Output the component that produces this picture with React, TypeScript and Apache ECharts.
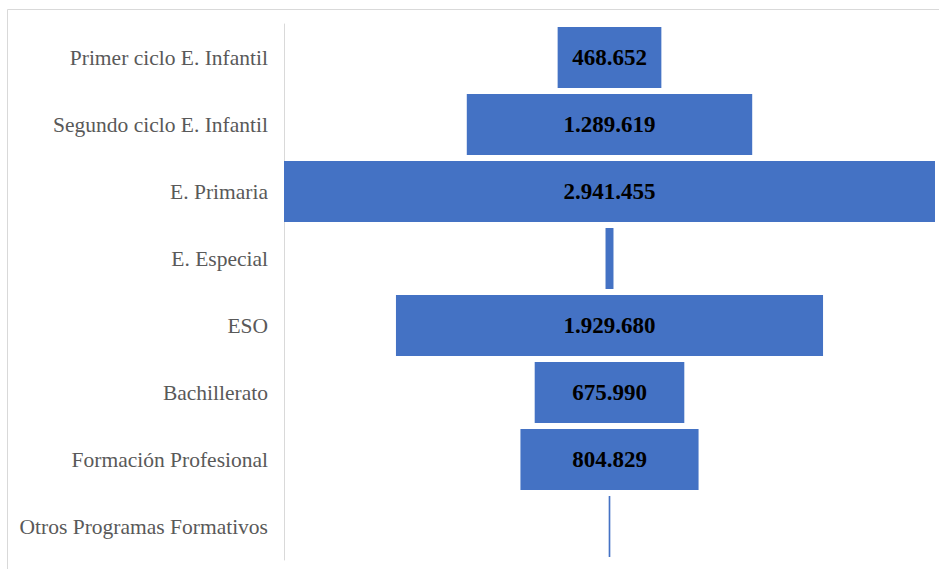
import React, { useEffect, useRef } from "react";
import * as echarts from "echarts";

const categories = [
  "Primer ciclo E. Infantil",
  "Segundo ciclo E. Infantil",
  "E. Primaria",
  "E. Especial",
  "ESO",
  "Bachillerato",
  "Formación Profesional",
  "Otros Programas Formativos",
];
const values = [468652, 1289619, 2941455, 36000, 1929680, 675990, 804829, 7500];
const showLabel = [true, true, true, false, true, true, true, false];

const fmt = (v: number) => String(Math.round(v)).replace(/\B(?=(\d{3})+(?!\d))/g, ".");

export default function App() {
  const ref = useRef<HTMLDivElement>(null);
  useEffect(() => {
    if (!ref.current) return;
    const chart = echarts.init(ref.current, undefined, { renderer: "svg" });
    const maxV = Math.max(...values);
    chart.setOption({
      animation: false,
      backgroundColor: "#ffffff",
      graphic: [
        {
          type: "rect",
          shape: { x: 7.5, y: 9.5, width: 1200, height: 1200 },
          style: { fill: "none", stroke: "#d9d9d9", lineWidth: 1 },
          silent: true,
        },
      ],
      grid: { left: 284, right: 4, top: 24, bottom: 9, containLabel: false },
      xAxis: {
        type: "value",
        min: 0,
        max: maxV,
        show: false,
      },
      yAxis: {
        type: "category",
        inverse: true,
        data: categories,
        axisLine: { show: true, lineStyle: { color: "#d9d9d9", width: 1 } },
        axisTick: { show: false },
        axisLabel: {
          color: "#595959",
          fontFamily: "'Liberation Serif', 'Times New Roman', serif",
          fontSize: 21.5,
          margin: 16,
        },
      },
      series: [
        {
          type: "bar",
          stack: "f",
          silent: true,
          itemStyle: { color: "transparent" },
          data: values.map((v) => (maxV - v) / 2),
          barCategoryGap: "9%",
        },
        {
          type: "bar",
          stack: "f",
          barCategoryGap: "9%",
          itemStyle: { color: "#4472c4" },
          data: values.map((v, i) => ({
            value: v,
            label: {
              show: showLabel[i],
              position: "inside",
              formatter: () => fmt(v),
              color: "#000000",
              fontWeight: "bold",
              fontSize: 23,
              fontFamily: "'Liberation Serif', 'Times New Roman', serif",
            },
          })),
        },
      ],
    });
    return () => chart.dispose();
  }, []);
  return (
    <div
      ref={ref}
      style={{ position: "fixed", left: 0, top: 0, width: 939, height: 569 }}
    />
  );
}
